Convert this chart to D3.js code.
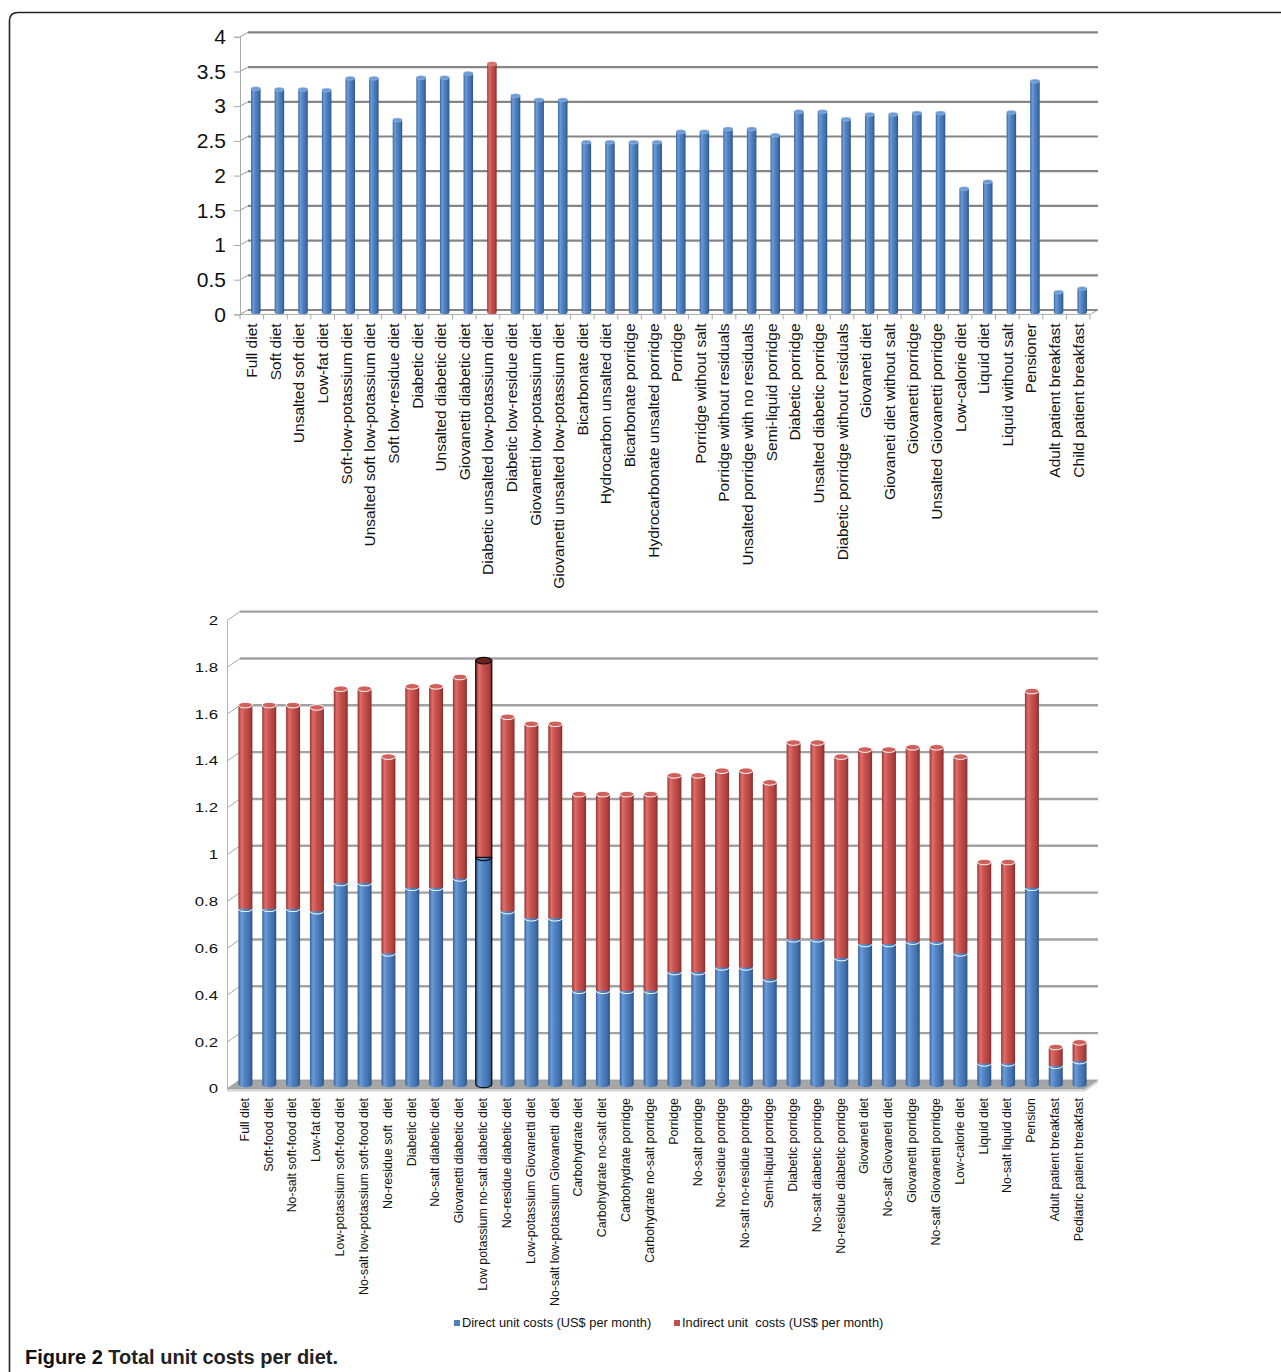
<!DOCTYPE html>
<html><head><meta charset="utf-8">
<script src="https://cdn.jsdelivr.net/npm/d3@7"></script>
<style>
body{margin:0;background:#fff;}
svg{display:block;}
text{font-family:"Liberation Sans",Arial,Helvetica,sans-serif;fill:#111;white-space:pre;}
</style></head><body>
<svg id="c" width="1281" height="1372"></svg>
<script>
// ---------- DATA ----------
const topCategories = ["Full diet","Soft diet","Unsalted soft diet","Low-fat diet","Soft-low-potassium diet","Unsalted soft low-potassium diet","Soft low-residue diet","Diabetic diet","Unsalted diabetic diet","Giovanetti diabetic diet","Diabetic unsalted low-potassium diet","Diabetic low-residue diet","Giovanetti low-potassium diet","Giovanetti unsalted low-potassium diet","Bicarbonate diet","Hydrocarbon unsalted diet","Bicarbonate porridge","Hydrocarbonate unsalted porridge","Porridge","Porridge without salt","Porridge without residuals","Unsalted porridge with no residuals","Semi-liquid porridge","Diabetic porridge","Unsalted diabetic porridge","Diabetic porridge without residuals","Giovaneti diet","Giovaneti diet without salt","Giovanetti porridge","Unsalted Giovanetti porridge","Low-calorie diet","Liquid diet","Liquid without salt","Pensioner","Adult patient breakfast","Child patient breakfast"];
const topValues = [3.22,3.21,3.21,3.20,3.37,3.37,2.77,3.38,3.38,3.44,3.58,3.12,3.06,3.06,2.45,2.45,2.45,2.45,2.60,2.60,2.64,2.64,2.55,2.89,2.89,2.78,2.85,2.85,2.87,2.87,1.78,1.88,2.88,3.33,0.29,0.34];
const topTicks = [0,0.5,1,1.5,2,2.5,3,3.5,4];
const topHighlight = "Diabetic unsalted low-potassium diet";

const bottomCategories = ["Full diet","Soft-food diet","No-salt soft-food diet","Low-fat diet","Low-potassium soft-food diet","No-salt low-potassium soft-food diet","No-residue soft  diet","Diabetic diet","No-salt diabetic diet","Giovanetti diabetic diet","Low potassium no-salt diabetic diet","No-residue diabetic diet","Low-potassium Giovanetti diet","No-salt low-potassium Giovanetti  diet","Carbohydrate diet","Carbohydrate no-salt diet","Carbohydrate porridge","Carbohydrate no-salt porridge","Porridge","No-salt porridge","No-residue porridge","No-salt no-residue porridge","Semi-liquid porridge","Diabetic porridge","No-salt diabetic porridge","No-residue diabetic porridge","Giovaneti diet","No-salt Giovaneti diet","Giovanetti porridge","No-salt Giovanetti porridge","Low-calorie diet","Liquid diet","No-salt liquid diet","Pension","Adult patient breakfast","Pediatric patient breakfast"];
const directValues   = [0.75,0.75,0.75,0.74,0.86,0.86,0.56,0.84,0.84,0.88,0.97,0.74,0.71,0.71,0.40,0.40,0.40,0.40,0.48,0.48,0.50,0.50,0.45,0.62,0.62,0.54,0.60,0.60,0.61,0.61,0.56,0.09,0.09,0.84,0.08,0.10];
const indirectValues = [0.87,0.87,0.87,0.87,0.83,0.83,0.84,0.86,0.86,0.86,0.84,0.83,0.83,0.83,0.84,0.84,0.84,0.84,0.84,0.84,0.84,0.84,0.84,0.84,0.84,0.86,0.83,0.83,0.83,0.83,0.84,0.86,0.86,0.84,0.08,0.08];
const bottomTicks = [0,0.2,0.4,0.6,0.8,1,1.2,1.4,1.6,1.8,2];
const bottomHighlight = "Low potassium no-salt diabetic diet";
const seriesNames = ["Direct unit costs (US$ per month)","Indirect unit  costs (US$ per month)"];
const seriesKeys = ["direct","indirect"];
const captionBold = "Figure 2";
const captionRest = " Total unit costs per diet.";

// ---------- SETUP ----------
const svg = d3.select("#c");
const defs = svg.append("defs");
function grad(id, stops){
  const g = defs.append("linearGradient").attr("id",id).attr("x1","0").attr("x2","1").attr("y1","0").attr("y2","0");
  stops.forEach(s=>g.append("stop").attr("offset",s[0]).attr("stop-color",s[1]));
}
grad("gBlue",[[0,"#35649e"],[0.22,"#6c9cd8"],[0.45,"#5384c3"],[0.8,"#3f6fab"],[1,"#2b5285"]]);
grad("gRed",[[0,"#983431"],[0.22,"#df6e6a"],[0.45,"#c9534f"],[0.8,"#b0413e"],[1,"#83302d"]]);

function body(g, cx, w, yTop, yBot, fill, stroke, sw){
  const rx=w/2, ry=Math.max(1.6,w*0.2);
  return g.append("path")
    .attr("d",`M${cx-rx},${yTop}L${cx-rx},${yBot}A${rx},${ry} 0 0 0 ${cx+rx},${yBot}L${cx+rx},${yTop}Z`)
    .attr("fill",fill).attr("stroke",stroke||"none").attr("stroke-width",sw||0);
}

// frame
svg.append("path").attr("d","M9.5,1390 V21 Q9.5,12.5 18,12.5 H1300")
  .attr("fill","none").attr("stroke","#222").attr("stroke-width",1.6);

// ---------- TOP CHART ----------
const tg = svg.append("g");
const tdx = 8, tdy = 4.4;
const topX = d3.scaleBand().domain(topCategories).range([240,1090]);
const topYBack = d3.scaleLinear().domain([0,4]).range([310,32.4]);
const topYFront = d3.scaleLinear().domain([0,4]).range([310+tdy,32.4+tdy]);

tg.selectAll("line.grid").data(topTicks).join("line")
  .attr("x1",240+tdx).attr("x2",1090+tdx)
  .attr("y1",d=>topYBack(d)).attr("y2",d=>topYBack(d))
  .attr("stroke","#858585").attr("stroke-width",2.2);
tg.selectAll("line.diag").data(topTicks).join("line")
  .attr("x1",240).attr("x2",240+tdx)
  .attr("y1",d=>topYFront(d)).attr("y2",d=>topYBack(d))
  .attr("stroke","#9a9a9a").attr("stroke-width",1);

const tyAxis = tg.append("g").attr("transform","translate(240,0)")
  .call(d3.axisLeft(topYFront).tickValues(topTicks).tickSize(6).tickPadding(8).tickFormat(d=>String(d)));
tyAxis.select(".domain").attr("stroke","#a8a8a8");
tyAxis.selectAll(".tick line").attr("stroke","#a8a8a8");
tyAxis.selectAll("text").attr("font-size",21).attr("font-family","Liberation Sans, Arial, sans-serif").attr("fill","#111");

const y0f = topYFront(0);
tg.append("line").attr("x1",240).attr("x2",1090).attr("y1",y0f).attr("y2",y0f).attr("stroke","#a8a8a8");
tg.append("line").attr("x1",1090).attr("x2",1090+tdx).attr("y1",y0f).attr("y2",topYBack(0)).attr("stroke","#a8a8a8");
const topBounds = topCategories.map(c=>topX(c)).concat([topX.range()[1]]);
tg.selectAll("line.xt").data(topBounds).join("line")
  .attr("x1",d=>d).attr("x2",d=>d).attr("y1",y0f).attr("y2",y0f+5).attr("stroke","#a8a8a8");

const txAxis = tg.append("g").attr("transform",`translate(0,${y0f})`)
  .call(d3.axisBottom(topX).tickSize(0));
txAxis.select(".domain").remove();
txAxis.selectAll("text").attr("transform","rotate(-90)").attr("x",-9).attr("y",0).attr("dy","0.35em")
  .attr("text-anchor","end").attr("font-size",15.5).attr("font-family","Liberation Sans, Arial, sans-serif").attr("fill","#111");

const topBars = tg.append("g");
topCategories.forEach((c,i)=>{
  const v = topValues[i];
  const cx = topX(c)+topX.bandwidth()/2+tdx/2;
  const w = 9.5;
  const yT = topYBack(v)+tdy/2, yB = topYBack(0)+tdy/2;
  const hi = c===topHighlight;
  body(topBars,cx,w,yT,yB,hi?"url(#gRed)":"url(#gBlue)");
  topBars.append("ellipse").attr("cx",cx).attr("cy",yT).attr("rx",w/2).attr("ry",1.9)
    .attr("fill",hi?"#d46f6b":"#6e9bd3").attr("stroke",hi?"#e89a97":"#9cbde6").attr("stroke-width",0.6);
});

// ---------- BOTTOM CHART ----------
const bg = svg.append("g");
const bdx = 13, bdy = 9;
const botX = d3.scaleBand().domain(bottomCategories).range([227,1085]);
const botYBack = d3.scaleLinear().domain([0,2]).range([1080,611.6]);
const botYFront = d3.scaleLinear().domain([0,2]).range([1080+bdy,611.6+bdy]);

bg.selectAll("line.grid").data(bottomTicks.filter(d=>d>0)).join("line")
  .attr("x1",227+bdx).attr("x2",1085+bdx)
  .attr("y1",d=>botYBack(d)).attr("y2",d=>botYBack(d))
  .attr("stroke","#a2a2a2").attr("stroke-width",2.4);
bg.selectAll("line.diag").data(bottomTicks).join("line")
  .attr("x1",227).attr("x2",227+bdx)
  .attr("y1",d=>botYFront(d)).attr("y2",d=>botYBack(d))
  .attr("stroke","#a8a8a8").attr("stroke-width",1);

const byAxis = bg.append("g").attr("transform","translate(227,0)")
  .call(d3.axisLeft(botYFront).tickValues(bottomTicks).tickSize(0).tickPadding(9).tickFormat(d=>String(d)));
byAxis.select(".domain").attr("stroke","#b5b5b5");
byAxis.selectAll("text").attr("font-size",12).attr("font-family","Liberation Sans, Arial, sans-serif").attr("fill","#111")
  .attr("x",-9/1.4).attr("transform","scale(1.4,1)");

const fy0 = botYFront(0), by0 = botYBack(0);
bg.append("polygon").attr("points",`227,${fy0} 1085,${fy0} ${1085+bdx},${by0} ${227+bdx},${by0}`)
  .attr("fill","#a6a6a6").attr("stroke","#9a9a9a").attr("stroke-width",0.8);
bg.append("polygon").attr("points",`227,${fy0} 1085,${fy0} ${1085+bdx},${by0} ${1085+bdx},${by0+2.5} 1085,${fy0+2.5} 227,${fy0+2.5}`)
  .attr("fill","#d4d4d4");

const bxAxis = bg.append("g").attr("transform",`translate(0,${fy0})`)
  .call(d3.axisBottom(botX).tickSize(0));
bxAxis.select(".domain").remove();
bxAxis.selectAll(".tick").attr("transform",d=>`translate(${botX(d)+botX.bandwidth()/2+bdx/2-1},0)`);
bxAxis.selectAll("text").attr("transform","rotate(-90)").attr("x",-9).attr("y",0).attr("dy","0.35em")
  .attr("text-anchor","end").attr("font-size",12.4).attr("font-family","Liberation Sans, Arial, sans-serif").attr("fill","#111");

const rows = bottomCategories.map((c,i)=>({cat:c,direct:directValues[i],indirect:indirectValues[i]}));
const stacked = d3.stack().keys(seriesKeys)(rows);
const botBars = bg.append("g");
rows.forEach((r,i)=>{
  const hi = r.cat===bottomHighlight;
  const cx = botX(r.cat)+botX.bandwidth()/2+bdx/2;
  const w = hi?16:14, rx=w/2, ry=Math.max(1.6,w*0.2);
  const yv = v=>botYBack(v)+bdy/2;
  const d0 = stacked[0][i], d1 = stacked[1][i];
  body(botBars,cx,w,yv(d1[1]),yv(d1[0]),"url(#gRed)",hi?"#111":"none",hi?1.3:0);
  body(botBars,cx,w,yv(d0[1]),yv(d0[0]),"url(#gBlue)",hi?"#111":"none",hi?1.3:0);
  botBars.append("path")
    .attr("d",`M${cx-rx},${yv(d0[1])}A${rx},${ry} 0 0 0 ${cx+rx},${yv(d0[1])}`)
    .attr("fill","none").attr("stroke",hi?"#111":"#fff").attr("stroke-width",hi?1.3:1);
  botBars.append("ellipse").attr("cx",cx).attr("cy",yv(d1[1])).attr("rx",rx).attr("ry",ry)
    .attr("fill",hi?"#6e2220":"#d0605c").attr("stroke",hi?"#111":"#fff").attr("stroke-width",hi?1.3:1);
});

// legend
const lg = svg.append("g").attr("transform","translate(0,1323)");
const legendX = [454,674];
const legendColors = ["#4f81bd","#c0504d"];
seriesNames.forEach((n,i)=>{
  lg.append("rect").attr("x",legendX[i]).attr("y",-3).attr("width",6).attr("height",6).attr("fill",legendColors[i]);
  lg.append("text").attr("x",legendX[i]+8).attr("y",0).attr("dy","0.35em").attr("font-size",12.8).text(n);
});

// caption
const cap = svg.append("text").attr("x",25).attr("y",1364)
  .attr("font-family","'Liberation Sans Narrow','DejaVu Sans Condensed',Arial,sans-serif").attr("font-size",20).attr("fill","#111");
cap.append("tspan").attr("font-weight","bold").text(captionBold);
cap.append("tspan").attr("font-weight","bold").attr("fill","#222").text(captionRest);
</script>
</body></html>
